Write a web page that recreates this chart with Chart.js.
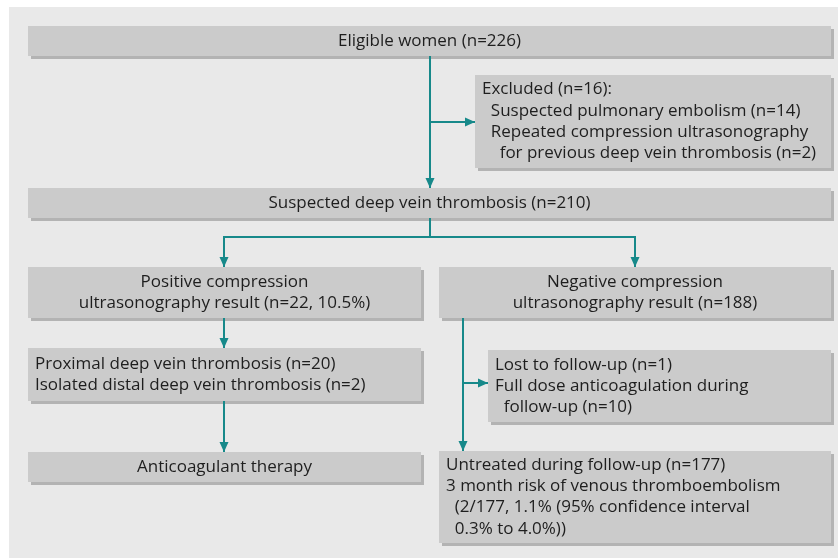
<!DOCTYPE html>
<html>
<head>
<meta charset="utf-8">
<script src="https://cdn.jsdelivr.net/npm/chart.js@4.4.1/dist/chart.umd.min.js"></script>
<style>
  body { margin: 0; background: #ffffff; }
  canvas { display: block; }
</style>
</head>
<body>
<canvas id="flow" width="838" height="559"></canvas>
<script>
// cajas del diagrama (unidades del eje = px de la figura)
const boxText = [
    ['Eligible women (n=226)'],
    ['Excluded (n=16):', '  Suspected pulmonary embolism (n=14)', '  Repeated compression ultrasonography', '    for previous deep vein thrombosis (n=2)'],
    ['Suspected deep vein thrombosis (n=210)'],
    ['Positive compression', 'ultrasonography result (n=22, 10.5%)'],
    ['Negative compression', 'ultrasonography result (n=188)'],
    ['Proximal deep vein thrombosis (n=20)', 'Isolated distal deep vein thrombosis (n=2)'],
    ['Lost to follow-up (n=1)', 'Full dose anticoagulation during', '  follow-up (n=10)'],
    ['Anticoagulant therapy'],
    ['Untreated during follow-up (n=177)', '3 month risk of venous thromboembolism', '  (2/177, 1.1% (95% confidence interval', '  0.3% to 4.0%))']
];
const boxCentered = [true, false, true, true, true, false, false, true, false];
const boxLeft   = [28, 475, 28, 28, 439, 28, 488, 28, 439];
const boxRight  = [831, 831, 831, 421, 831, 421, 831, 421, 831];
const boxTop    = [26, 75, 188, 267, 267, 348, 350, 452, 451];
const boxBottom = [56, 168, 218, 318, 318, 401, 422, 482, 543];

// flechas (puntos x,y; la punta va en el último punto)
const arrowX = [
    [430, 430],
    [430, 475],
    [430, 430, 224, 224],
    [430, 635, 635],
    [224, 224],
    [224, 224],
    [463, 463],
    [463, 488]
];
const arrowY = [
    [56, 188],
    [122, 122],
    [218, 237, 237, 267],
    [237, 237, 267],
    [318, 348],
    [401, 452],
    [318, 451],
    [383, 383]
];

const TEAL = '#17898a';
const FONT = '17px "Open Sans", "Noto Sans", sans-serif';
const LINE_H = 21.3;

const fondoPlugin = {
    id: 'fondo',
    beforeDraw(chart) {
        const ctx = chart.ctx;
        ctx.save();
        ctx.fillStyle = '#ffffff';
        ctx.fillRect(0, 0, chart.width, chart.height);
        ctx.fillStyle = '#e9e9e9';
        ctx.fillRect(9, 7, chart.width - 9, 551);
        ctx.restore();
    },
    beforeDatasetsDraw(chart) {
        const ctx = chart.ctx;
        const x = chart.scales.x, y = chart.scales.y;
        ctx.save();
        boxText.forEach((lines, i) => {
            const l = x.getPixelForValue(boxLeft[i]);
            const r = x.getPixelForValue(boxRight[i]);
            const t = y.getPixelForValue(boxTop[i]);
            const b = y.getPixelForValue(boxBottom[i]);
            ctx.fillStyle = '#b3b3b3';
            ctx.fillRect(l + 3, t + 3, r - l, b - t);
            ctx.fillStyle = '#cbcbcb';
            ctx.fillRect(l, t, r - l, b - t);

            ctx.fillStyle = '#1e1e1e';
            ctx.font = FONT;
            ctx.textBaseline = 'middle';
            const mid = (t + b) / 2;
            const start = mid - (lines.length - 1) * LINE_H / 2;
            lines.forEach((txt, k) => {
                if (boxCentered[i]) {
                    ctx.textAlign = 'center';
                    ctx.fillText(txt, (l + r) / 2, start + k * LINE_H);
                } else {
                    ctx.textAlign = 'left';
                    ctx.fillText(txt, l + 7, start + k * LINE_H);
                }
            });
        });
        ctx.restore();
    },
    afterDatasetsDraw(chart) {
        // puntas de flecha
        const ctx = chart.ctx;
        const x = chart.scales.x, y = chart.scales.y;
        ctx.save();
        ctx.fillStyle = TEAL;
        arrowX.forEach((xs, i) => {
            const n = xs.length;
            const x1 = x.getPixelForValue(xs[n - 1]), y1 = y.getPixelForValue(arrowY[i][n - 1]);
            const x0 = x.getPixelForValue(xs[n - 2]), y0 = y.getPixelForValue(arrowY[i][n - 2]);
            const ang = Math.atan2(y1 - y0, x1 - x0);
            const len = 10, half = 4.5;
            ctx.beginPath();
            ctx.moveTo(x1, y1);
            ctx.lineTo(x1 - len * Math.cos(ang) - half * Math.sin(ang), y1 - len * Math.sin(ang) + half * Math.cos(ang));
            ctx.lineTo(x1 - len * Math.cos(ang) + half * Math.sin(ang), y1 - len * Math.sin(ang) - half * Math.cos(ang));
            ctx.closePath();
            ctx.fill();
        });
        ctx.restore();
    }
};

const datasets = arrowX.map((xs, i) => ({
    data: xs.map((v, k) => ({ x: v, y: arrowY[i][k] })),
    showLine: true,
    borderColor: TEAL,
    borderWidth: 2,
    borderCapStyle: 'butt',
    pointRadius: 0,
    tension: 0
}));

new Chart(document.getElementById('flow'), {
    type: 'scatter',
    data: { datasets: datasets },
    options: {
        responsive: false,
        animation: false,
        layout: { padding: 0 },
        plugins: { legend: { display: false }, tooltip: { enabled: false } },
        scales: {
            x: { type: 'linear', min: 0, max: 838, display: false },
            y: { type: 'linear', min: 0, max: 559, reverse: true, display: false }
        }
    },
    plugins: [fondoPlugin]
});
</script>
</body>
</html>
